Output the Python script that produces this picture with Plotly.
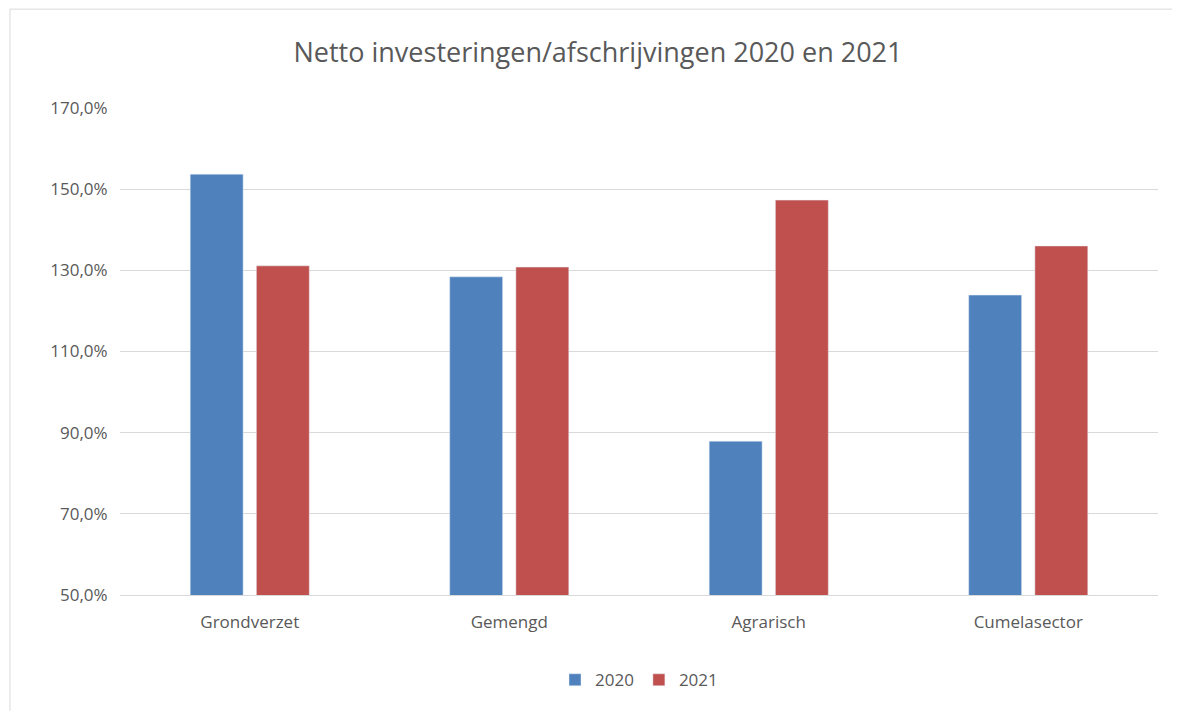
import plotly.graph_objects as go

categories = ["Grondverzet", "Gemengd", "Agrarisch", "Cumelasector"]
v2020 = [153.7, 128.4, 87.9, 123.9]
v2021 = [131.1, 130.8, 147.3, 136.0]
tickvals = [50, 70, 90, 110, 130, 150, 170]
ticktext = ["50,0%", "70,0%", "90,0%", "110,0%", "130,0%", "150,0%", "170,0%"]

fig = go.Figure()
fig.add_bar(x=categories, y=v2020, name="2020", marker_color="#4F81BD")
fig.add_bar(x=categories, y=v2021, name="2021", marker_color="#C0504D")

font = "Open Sans, Liberation Sans, sans-serif"
fig.update_layout(
    width=1180, height=711,
    paper_bgcolor="white", plot_bgcolor="white",
    title=dict(text="Netto investeringen/afschrijvingen 2020 en 2021", x=0.5, y=0.937,
               xanchor="center", yanchor="middle", font=dict(family=font, size=27, color="#595959")),
    margin=dict(l=112, r=30, t=100, b=124),
    barmode="group", bargap=0.49, bargroupgap=0.2,
    legend=dict(orientation="h", x=0.5, xanchor="center", y=-0.175, yanchor="middle",
                font=dict(family=font, size=17, color="#595959")),
    shapes=[dict(type="rect", xref="paper", yref="paper", x0=-0.106, x1=1.027, y0=-0.251, y1=1.203,
                 line=dict(color="#D9D9D9", width=1))],
)
fig.update_xaxes(tickfont=dict(family=font, size=17, color="#595959"), showline=True,
                 linecolor="#D9D9D9", ticks="outside", ticklen=12, tickcolor="white",
                 automargin=False)
fig.update_yaxes(range=[50, 170], tickvals=tickvals, ticktext=ticktext,
                 gridcolor="#D9D9D9", zeroline=False, automargin=False,
                 ticks="outside", ticklen=8, tickcolor="white",
                 tickfont=dict(family=font, size=17, color="#595959"))
fig.write_html("out.html")
